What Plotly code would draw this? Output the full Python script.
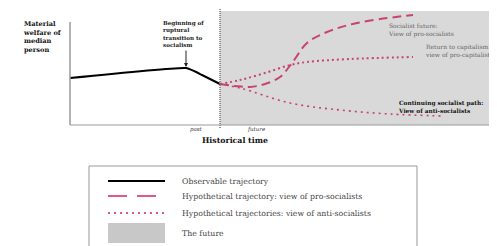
import plotly.graph_objects as go

W, H = 497, 246
OFF = 8  # browser body margin
FW, FH = W - OFF, H - OFF
SERIF = "Liberation Serif, DejaVu Serif, serif"
WIDE = "DejaVu Serif, serif"
PINK = "#c8436e"

# Data (time units along x, welfare units along y)
present = 150
end_time = 427
obs_t = [0, 116, 124, 132, 140, 150]
obs_w = [47, 57, 54, 50, 46, 41]

pro_soc_t = [150, 165, 180, 195, 210, 222, 237, 257, 287, 343]
pro_soc_w = [41, 39, 38, 41, 48, 62, 82, 93, 102, 110]

ret_cap_t = [150, 170, 195, 220, 237, 280, 343]
ret_cap_w = [41, 45, 52, 60, 63, 66, 68]

cont_soc_t = [150, 170, 220, 270, 320, 373]
cont_soc_w = [41, 37, 22, 15, 11, 9]

fig = go.Figure()
fig.add_trace(go.Scatter(x=obs_t, y=obs_w, mode="lines", line=dict(color="black", width=2, shape="spline", smoothing=0.5)))
fig.add_trace(go.Scatter(x=pro_soc_t, y=pro_soc_w, mode="lines", line=dict(color=PINK, width=2, dash="9px,5px", shape="spline")))
fig.add_trace(go.Scatter(x=ret_cap_t, y=ret_cap_w, mode="lines", line=dict(color=PINK, width=2, dash="2px,3px", shape="spline")))
fig.add_trace(go.Scatter(x=cont_soc_t, y=cont_soc_w, mode="lines", line=dict(color=PINK, width=1.6, dash="2px,4px", shape="spline")))

def px(x):
    return (x - OFF) / FW

def py(y):
    return 1 - (y - OFF) / FH

shapes = []
# future region
shapes.append(dict(type="rect", xref="x", yref="y", x0=present, x1=end_time, y0=0, y1=114,
                   fillcolor="#d9d9d9", line=dict(width=0), layer="below"))
# present divider
shapes.append(dict(type="line", xref="x", yref="paper", x0=present, x1=present, y0=py(128), y1=py(8),
                   line=dict(color="#777", width=1.5, dash="1px,1px")))
# axes lines
shapes.append(dict(type="line", xref="paper", yref="paper", x0=px(70), x1=px(70), y0=py(125), y1=py(22),
                   line=dict(color="#999", width=1.5)))
shapes.append(dict(type="line", xref="paper", yref="paper", x0=px(70), x1=px(497), y0=py(125), y1=py(125),
                   line=dict(color="#999", width=1.2)))
# legend box
shapes.append(dict(type="rect", xref="paper", yref="paper", x0=px(89), x1=px(417), y0=py(252), y1=py(166),
                   line=dict(color="#999", width=1), fillcolor="white"))
shapes.append(dict(type="line", xref="paper", yref="paper", x0=px(108), x1=px(165), y0=py(181), y1=py(181),
                   line=dict(color="black", width=2)))
shapes.append(dict(type="line", xref="paper", yref="paper", x0=px(108), x1=px(165), y0=py(196), y1=py(196),
                   line=dict(color="#d4245c", width=1.5, dash="19px,10px")))
shapes.append(dict(type="line", xref="paper", yref="paper", x0=px(108), x1=px(165), y0=py(213), y1=py(213),
                   line=dict(color="#d4245c", width=1.5, dash="2px,4px")))
shapes.append(dict(type="rect", xref="paper", yref="paper", x0=px(108), x1=px(165), y0=py(243), y1=py(223),
                   fillcolor="#c8c8c8", line=dict(width=0)))

ann = []
def text(x, y, s, size=7, bold=False, italic=False, color="#333", xanchor="left", family=WIDE):
    if bold:
        s = "<b>" + s + "</b>"
    if italic:
        s = "<i>" + s + "</i>"
    ann.append(dict(x=px(x), y=py(y), xref="paper", yref="paper", text=s, showarrow=False,
                    xanchor=xanchor, yanchor="middle", align="left", borderpad=0,
                    font=dict(family=family, size=size, color=color)))

text(22, 36.5, "Material<br>welfare of<br>median<br>person", size=6.6, bold=True, color="#111")
text(162, 34, "Beginning of<br>ruptural<br>transition to<br>socialism", size=5.6, bold=True, color="#222")
text(196, 130, "past", size=5.5, italic=True, xanchor="center")
text(257, 130, "future", size=5.5, italic=True, xanchor="center")
text(235, 140.5, "Historical time", size=7.8, bold=True, color="#111", xanchor="center")
text(387, 29.5, "Socialist future:<br>View of pro-socialists", size=6, color="#666")
text(424, 51, "Return to capitalism:<br>view of pro-capitalists", size=6, color="#666")
text(397, 107, "Continuing socialist path:<br>View of anti-socialists", size=5.8, bold=True, color="#111")
text(181, 181, "Observable trajectory", size=7.8, color="#444")
text(181, 196, "Hypothetical trajectory: view of pro-socialists", size=7.8, color="#444")
text(181, 213, "Hypothetical trajectories: view of anti-socialists", size=7.8, color="#444")
text(181, 233, "The future", size=7.8, color="#444")

# arrow for the rupture annotation
ann.append(dict(x=116, y=58, xref="x", yref="y", ax=0, ay=-18, axref="pixel", ayref="pixel",
                text="", showarrow=True, arrowhead=2, arrowsize=0.8, arrowwidth=1, arrowcolor="#222"))

fig.update_layout(
    width=FW, height=FH, margin=dict(l=0, r=0, t=0, b=0),
    paper_bgcolor="white", plot_bgcolor="rgba(0,0,0,0)", showlegend=False,
    xaxis=dict(domain=[px(70), 1], range=[0, end_time], visible=False, fixedrange=True),
    yaxis=dict(domain=[py(125), 1], range=[0, 117], visible=False, fixedrange=True),
    shapes=shapes, annotations=ann,
)
fig.write_html("out.html", config={"displayModeBar": False})
